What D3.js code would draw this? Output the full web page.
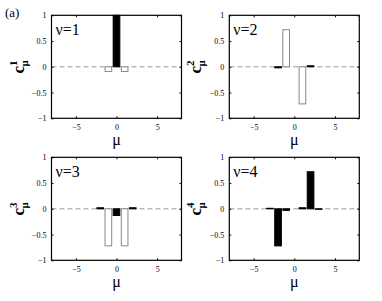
<!DOCTYPE html>
<html>
<head>
<meta charset="utf-8">
<script src="https://cdn.jsdelivr.net/npm/d3@7"></script>
<style>
	body { margin: 0; background: #fff; }
	svg text { font-family: "Liberation Serif", "Times New Roman", "DejaVu Serif", serif; }
</style>
</head>
<body>
<svg width="382" height="301"></svg>
<script>
// data
var mu = [-3, -2, -1, 0, 1, 2, 3];
var c1 = [0, 0, -0.09, 1, -0.09, 0, 0];
var c2 = [0, -0.02, 0.72, 0, -0.72, 0.02, 0];
var c3 = [0, 0.02, -0.72, -0.13, -0.72, 0.02, 0];
var c4 = [0.01, -0.72, -0.03, 0, 0.02, 0.72, -0.01];
// 1 = black bar, 0 = open bar
var black1 = [1, 1, 0, 1, 0, 1, 1];
var black2 = [1, 1, 0, 1, 0, 1, 1];
var black3 = [1, 1, 0, 1, 0, 1, 1];
var black4 = [1, 1, 1, 1, 1, 1, 1];
var xTicks = [-5, 0, 5];
var yTicks = [-1, -0.5, 0, 0.5, 1];

var panels = [
	{ nu: 1, values: c1, black: black1, left: 51.5, top: 15.3 },
	{ nu: 2, values: c2, black: black2, left: 229.3, top: 15.3 },
	{ nu: 3, values: c3, black: black3, left: 51.5, top: 157.3 },
	{ nu: 4, values: c4, black: black4, left: 229.3, top: 157.3 }
];

var width = 130, height = 103;
var svg = d3.select("svg");
var fmt = d3.format("");

svg.append("text")
	.attr("x", 5).attr("y", 17)
	.style("font-size", "13px")
	.text("(a)");

panels.forEach(function(p) {
	var g = svg.append("g")
		.attr("transform", "translate(" + p.left + "," + p.top + ")");

	var x = d3.scaleLinear().domain([-8, 8]).range([0, width]);
	var y = d3.scaleLinear().domain([-1, 1]).range([height, 0]);
	var bw = x(0.82) - x(0);

	// zero line
	g.append("line")
		.attr("x1", 0).attr("x2", width)
		.attr("y1", y(0)).attr("y2", y(0))
		.attr("stroke", "#999")
		.attr("stroke-width", 1)
		.attr("stroke-dasharray", "5,3");

	// bars
	var data = mu.map(function(m, i) {
		return { mu: m, v: p.values[i], black: p.black[i] };
	}).filter(function(d) { return d.v != 0; });

	g.selectAll("rect.bar")
		.data(data)
		.enter()
		.append("rect")
		.attr("class", "bar")
		.attr("x", function(d) { return x(d.mu) - bw / 2; })
		.attr("y", function(d) { return Math.min(y(d.v), y(0)); })
		.attr("width", bw)
		.attr("height", function(d) { return Math.abs(y(d.v) - y(0)); })
		.attr("fill", function(d) { return d.black ? "#000" : "#fff"; })
		.attr("stroke", function(d) { return d.black ? "#000" : "#888"; })
		.attr("stroke-width", 1);

	// axes with inside ticks
	g.append("g")
		.attr("transform", "translate(0," + height + ")")
		.call(d3.axisBottom(x).tickValues(xTicks).tickFormat(fmt).tickSizeInner(-2).tickSizeOuter(0).tickPadding(6))
		.call(function(a) {
			a.select(".domain").remove();
			a.attr("font-family", null);
			a.selectAll("text").style("font-size", "8px");
		});
	g.append("g")
		.call(d3.axisLeft(y).tickValues(yTicks).tickFormat(fmt).tickSizeInner(-2).tickSizeOuter(0).tickPadding(5))
		.call(function(a) {
			a.select(".domain").remove();
			a.attr("font-family", null);
			a.selectAll("text").style("font-size", "8px");
		});
	g.append("g")
		.attr("transform", "translate(" + width + ",0)")
		.call(d3.axisRight(y).tickValues(yTicks).tickSizeInner(-2).tickSizeOuter(0).tickFormat(""))
		.call(function(a) { a.select(".domain").remove(); });
	g.append("g")
		.call(d3.axisTop(x).tickValues(xTicks).tickSizeInner(-2).tickSizeOuter(0).tickFormat(""))
		.call(function(a) { a.select(".domain").remove(); });

	// box
	g.append("rect")
		.attr("width", width).attr("height", height)
		.attr("fill", "none")
		.attr("stroke", "#000")
		.attr("stroke-width", 1.2);

	// panel label
	g.append("text")
		.attr("x", 4).attr("y", 20)
		.style("font-size", "16px")
		.text("\u03bd=" + p.nu);

	// x label
	g.append("text")
		.attr("x", width / 2).attr("y", height + 27)
		.attr("text-anchor", "middle")
		.style("font-size", "16px")
		.text("\u03bc");

	// y label
	var yl = g.append("text")
		.attr("transform", "translate(-28," + y(0) + ") rotate(-90)")
		.attr("text-anchor", "middle")
		.style("font-size", "17px")
		.style("font-weight", "bold");
	yl.append("tspan").text("c");
	yl.append("tspan")
		.attr("dy", -7)
		.style("font-size", "11px")
		.text(p.nu);
	yl.append("tspan")
		.attr("dx", -6)
		.attr("dy", 11)
		.style("font-size", "11px")
		.text("\u03bc");
});
</script>
</body>
</html>
